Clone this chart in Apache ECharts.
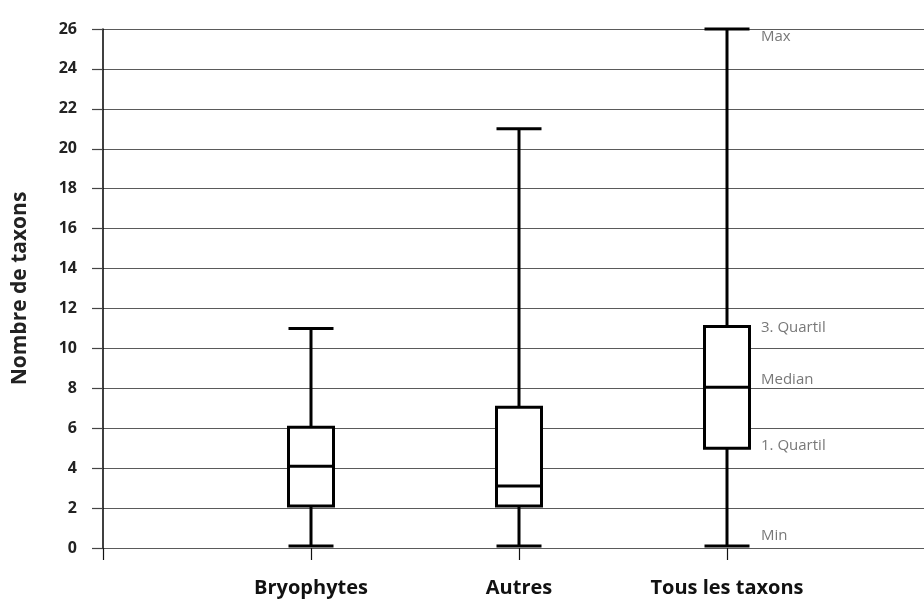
<!DOCTYPE html>
<html>
<head>
<meta charset="utf-8">
<script src="https://cdn.jsdelivr.net/npm/echarts@6/dist/echarts.min.js"></script>
<style>
  html, body { margin: 0; padding: 0; background: #fff; }
  #chart { width: 924px; height: 599px; }
</style>
</head>
<body>
<div id="chart"></div>
<script>
// Number of taxa per group: [min, Q1, median, Q3, max]
const categories = ['Bryophytes', 'Autres', 'Tous les taxons'];
const bryophytes = [0.1, 2.1, 4.1, 6.05, 11];
const autres = [0.1, 2.1, 3.1, 7.05, 21];
const tousLesTaxons = [0.1, 5.0, 8.05, 11.1, 26];
const yTicks = [0, 2, 4, 6, 8, 10, 12, 14, 16, 18, 20, 22, 24, 26];

// Names of the five statistics, annotated next to the last box
const statNames = ['Min', '1. Quartil', 'Median', '3. Quartil', 'Max'];

// Empty slots at both ends keep the boxes away from the plot edges
const axisCategories = [''].concat(categories, ['']);

// Vertical nudges (px) for the annotation labels, in statNames order
const labelNudge = [-10, -2, -8, 1, 8];

const FONT = '"Open Sans", "DejaVu Sans", sans-serif';

const chart = echarts.init(document.getElementById('chart'), null, { renderer: 'canvas' });

// Boxplot items follow the axis slots; the first (empty) slot holds no box
const boxData = [{ value: ['-', '-', '-', '-', '-'] }].concat(
  [bryophytes, autres, tousLesTaxons].map(function (v, i) {
    return { name: categories[i], value: v };
  })
);

chart.setOption({
  animation: false,
  backgroundColor: '#ffffff',
  grid: {
    left: 103, top: 29, width: 832, height: 519,
    containLabel: false,
    outerBoundsMode: 'none'
  },
  xAxis: {
    type: 'category',
    data: axisCategories,
    boundaryGap: false,
    axisLine: { show: false },
    axisTick: { show: true, length: 12, lineStyle: { color: '#111', width: 1.2 } },
    axisLabel: {
      margin: 30,
      fontFamily: FONT,
      fontWeight: 'bold',
      fontSize: 20,
      color: '#111'
    },
    splitLine: { show: false }
  },
  yAxis: {
    type: 'value',
    min: 0,
    max: 26,
    interval: 2,
    name: 'Nombre de taxons',
    nameLocation: 'middle',
    nameGap: 72,
    nameTextStyle: { fontFamily: FONT, fontWeight: 'bold', fontSize: 21, color: '#222' },
    axisLine: { show: true, lineStyle: { color: '#000', width: 1.5 } },
    axisTick: { show: true, length: 11, lineStyle: { color: '#444', width: 1.2 } },
    axisLabel: {
      margin: 26,
      fontFamily: FONT,
      fontWeight: 'bold',
      fontSize: 16,
      color: '#222',
      padding: [0, 0, 6, 0],
      formatter: function (v) { return yTicks.indexOf(v) >= 0 ? String(v) : ''; }
    },
    splitLine: { show: true, lineStyle: { color: '#5a5a5a', width: 1.2 } }
  },
  series: [
    {
      type: 'boxplot',
      boxWidth: [45, 45],
      itemStyle: { color: '#ffffff', borderColor: '#000000', borderWidth: 3 },
      emphasis: { disabled: true },
      data: boxData
    },
    {
      type: 'scatter',
      symbolSize: 0,
      silent: true,
      data: statNames.map(function (n, i) {
        return {
          name: n,
          value: [categories[2], tousLesTaxons[i]],
          label: { offset: [34, labelNudge[i]] }
        };
      }),
      label: {
        show: true,
        position: 'inside',
        align: 'left',
        verticalAlign: 'middle',
        formatter: '{b}',
        fontFamily: FONT,
        fontSize: 15,
        color: '#555'
      }
    }
  ]
});
</script>
</body>
</html>
